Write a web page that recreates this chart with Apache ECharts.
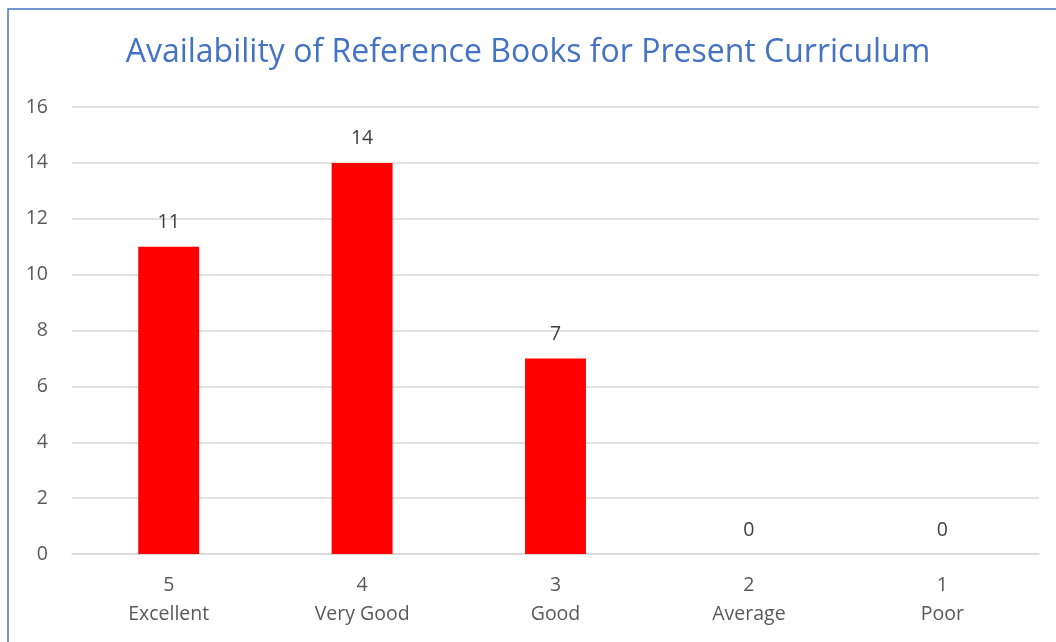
<!DOCTYPE html>
<html>
<head>
<meta charset="utf-8">
<style>
  html, body { margin: 0; padding: 0; background: #fff; }
  #main { width: 1056px; height: 642px; }
</style>
<script src="https://cdn.jsdelivr.net/npm/echarts@6/dist/echarts.min.js"></script>
</head>
<body>
<div id="main"></div>
<script>
// ratings and their labels
const ratings = ['5', '4', '3', '2', '1'];
const ratingNames = ['Excellent', 'Very Good', 'Good', 'Average', 'Poor'];
const counts = [11, 14, 7, 0, 0];

const chart = echarts.init(document.getElementById('main'));
const categories = ratings.map((r, i) => r + '\n' + ratingNames[i]);

chart.setOption({
  animation: false,
  textStyle: { fontFamily: 'Open Sans' },
  graphic: [
    {
      type: 'rect',
      shape: { x: 8, y: 9, width: 1100, height: 700 },
      style: { fill: 'none', stroke: '#4472C4', lineWidth: 1.5 },
      silent: true
    }
  ],
  title: {
    text: 'Availability of Reference Books for Present Curriculum',
    left: 'center',
    top: 32,
    textStyle: { color: '#4472C4', fontSize: 32, fontWeight: 'normal', fontFamily: 'Open Sans' }
  },
  grid: { left: 72, right: 17, top: 107, bottom: 88, containLabel: false },
  xAxis: {
    type: 'category',
    data: categories,
    axisLine: { show: true, lineStyle: { color: '#D9D9D9', width: 1.5 } },
    axisTick: { show: false },
    axisLabel: { color: '#595959', fontSize: 19.5, lineHeight: 29, margin: 17 }
  },
  yAxis: {
    type: 'value',
    min: 0,
    max: 16,
    interval: 2,
    axisLine: { show: false },
    axisTick: { show: false },
    axisLabel: { color: '#595959', fontSize: 19.5, margin: 24, align: 'right' },
    splitLine: { lineStyle: { color: '#D9D9D9', width: 1.5 } }
  },
  series: [
    {
      type: 'bar',
      data: counts,
      barWidth: '31.5%',
      itemStyle: { color: '#FF0000' },
      label: { show: true, position: 'top', distance: 14, color: '#404040', fontSize: 19.5 }
    }
  ]
});
</script>
</body>
</html>
